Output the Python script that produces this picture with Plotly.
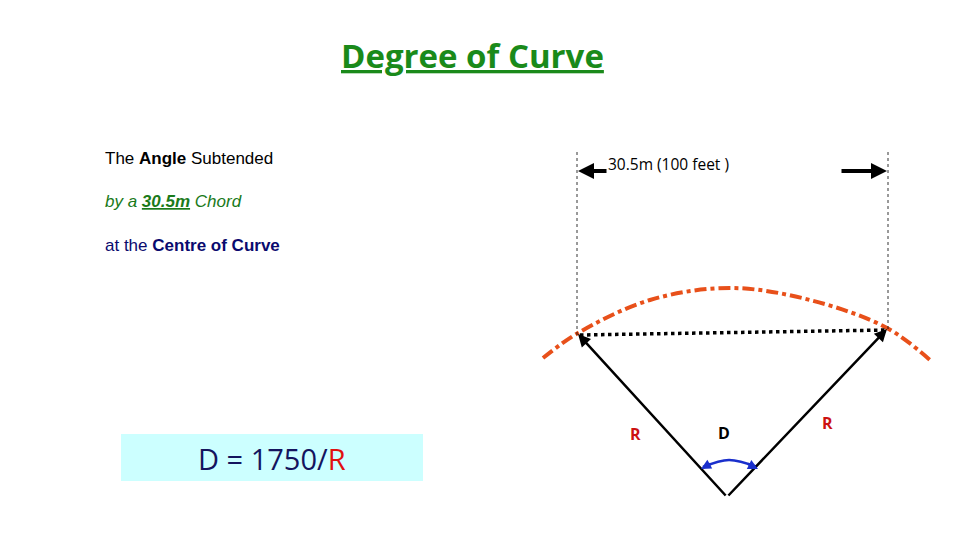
import plotly.graph_objects as go

# Geometry (pixel space, y downwards)
arc_x = [543, 578, 650, 730, 810, 887, 930]
arc_y = [358, 333, 300, 288, 300, 328, 360]
chord_x = [580, 887]
chord_y = [335, 330]
apex = (727, 497)
left_end = (578, 334)
right_end = (887, 329)
angle_x = [703, 729, 757]
angle_y = [467, 460, 467]

fig = go.Figure()
fig.add_trace(go.Scatter(x=arc_x, y=arc_y, mode="lines", line=dict(color="#e8501a", width=4, dash="dashdot", shape="spline"), hoverinfo="skip"))
fig.add_trace(go.Scatter(x=chord_x, y=chord_y, mode="lines", line=dict(color="black", width=3.5, dash="dot"), hoverinfo="skip"))
fig.add_trace(go.Scatter(x=angle_x, y=angle_y, mode="lines", line=dict(color="#1a2fcc", width=2.5, shape="spline"), hoverinfo="skip"))

shapes = [
    dict(type="line", x0=577, x1=577, y0=152, y1=335, line=dict(color="black", width=0.8, dash="dot")),
    dict(type="line", x0=888, x1=888, y0=152, y1=330, line=dict(color="black", width=0.8, dash="dot")),
    dict(type="rect", x0=121, x1=423, y0=434, y1=481, fillcolor="#ccffff", line=dict(width=0), layer="below"),
]
ann = []
def arrow(x0, y0, x1, y1, color="black", w=2.5, head=2, size=1):
    ann.append(dict(x=x1, y=y1, ax=x0, ay=y0, xref="x", yref="y", axref="x", ayref="y",
                    showarrow=True, arrowhead=head, arrowwidth=w, arrowcolor=color, arrowsize=size, text=""))
arrow(apex[0], apex[1], left_end[0], left_end[1])
arrow(apex[0], apex[1], right_end[0], right_end[1])
arrow(608, 171, 578, 171, w=4, size=0.8)
arrow(840, 171, 887, 171, w=4, size=0.8)
arrow(712, 463, 701, 469, color="#1a2fcc", w=2.5, size=0.8)
arrow(746, 463, 758, 469, color="#1a2fcc", w=2.5, size=0.8)

def txt(x, y, s, size, color="black", anchor="left", family="Liberation Sans"):
    ann.append(dict(x=x, y=y, xref="x", yref="y", text=s, showarrow=False, xanchor=anchor,
                    yanchor="middle", font=dict(size=size, color=color, family=family)))
txt(472, 55, "<b><u>Degree of Curve</u></b>", 33, "#1a8a1a", "center", "Open Sans")
txt(103, 158, "The <b>Angle</b> Subtended", 17)
txt(103, 201, "<i>by a <b><u>30.5m</u></b> Chord</i>", 17, "#1a7a1a")
txt(103, 245, "at the <b>Centre of Curve</b>", 17, "#0a0a6e")
txt(606, 164, "30.5m (100 feet )", 15.5, "black", "left", "Open Sans")
txt(272, 458, "D = 1750/<span style='color:#e01010'>R</span>", 29, "#14145e", "center", "Open Sans")
txt(635, 434, "<b>R</b>", 16, "#cc1111", "center", "Open Sans")
txt(827, 423, "<b>R</b>", 16, "#cc1111", "center", "Open Sans")
txt(724, 433, "<b>D</b>", 16, "black", "center", "Open Sans")

fig.update_layout(width=960, height=540, margin=dict(l=0, r=0, t=0, b=0), showlegend=False,
                  plot_bgcolor="white", paper_bgcolor="white", shapes=shapes, annotations=ann,
                  xaxis=dict(range=[8, 968], visible=False, fixedrange=True),
                  yaxis=dict(range=[548, 8], visible=False, fixedrange=True))
fig.write_html("out.html")
